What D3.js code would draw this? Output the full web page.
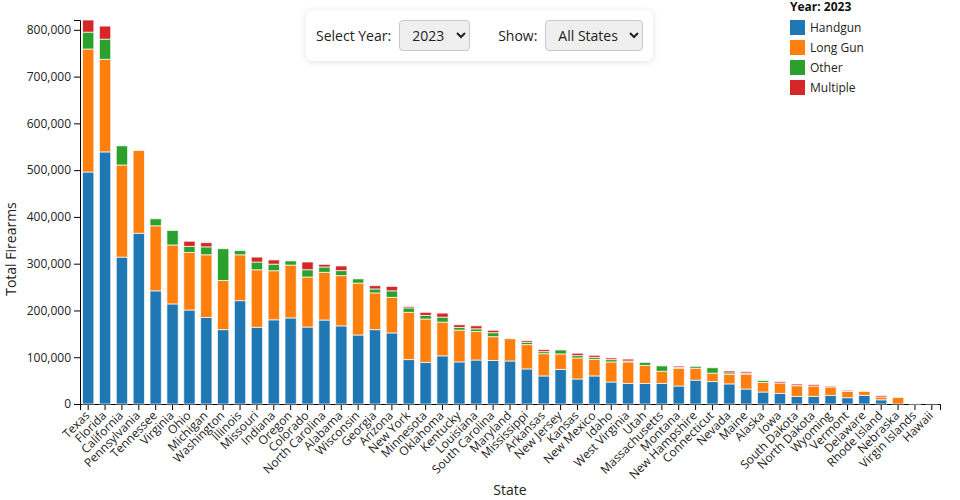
<!DOCTYPE html>
<html>
<head>
<meta charset="utf-8">
<script src="https://cdn.jsdelivr.net/npm/d3@7"></script>
<style>
  body { margin: 0; font-family: "Open Sans", sans-serif; background: #fff; }
  #wrap { position: relative; width: 960px; height: 500px; }
  #chart { position: absolute; left: 0; top: 0; }
  .controls {
    position: absolute; left: 306px; top: 10px; width: 347px; height: 51px;
    box-sizing: border-box; background: #fff; border-radius: 6px;
    box-shadow: 0 1px 6px rgba(0,0,0,0.12);
    display: flex; align-items: center; padding-left: 10px;
    font-size: 14px; color: #222;
  }
  .controls label { margin-right: 8px; }
  .controls select {
    font-family: "Open Sans", sans-serif; font-size: 14px; color: #222;
    height: 31px; background: #efefef; border: 1px solid #c8c8c8; border-radius: 4px;
    padding: 0 4px 0 8px;
  }
  #year { width: 71px; margin-right: 28px; }
  #show { width: 98px; }
</style>
</head>
<body>
<div id="wrap">
  <svg id="chart" width="960" height="500"></svg>
  <div class="controls">
    <label>Select Year:</label>
    <select id="year"><option>2023</option></select>
    <label>Show:</label>
    <select id="show"><option>All States</option></select>
  </div>
</div>
<script>
// values, sorted by total
const states = ["Texas", "Florida", "California", "Pennsylvania", "Tennessee", "Virginia", "Ohio",
  "Michigan", "Washington", "Illinois", "Missouri", "Indiana", "Oregon", "Colorado", "North Carolina",
  "Alabama", "Wisconsin", "Georgia", "Arizona", "New York", "Minnesota", "Oklahoma", "Kentucky",
  "Louisiana", "South Carolina", "Maryland", "Mississippi", "Arkansas", "New Jersey", "Kansas",
  "New Mexico", "Idaho", "West Virginia", "Utah", "Massachusetts", "Montana", "New Hampshire",
  "Connecticut", "Nevada", "Maine", "Alaska", "Iowa", "South Dakota", "North Dakota", "Wyoming",
  "Vermont", "Delaware", "Rhode Island", "Nebraska", "Virgin Islands", "Hawaii"];

const handgun = [496000, 539000, 314000, 365000, 242000, 214000, 201000, 185000, 159000, 221000,
  164000, 180000, 184000, 164500, 179500, 167000, 147500, 159000, 152000, 95000, 89000, 103000,
  90000, 94000, 93000, 92000, 75000, 60000, 74000, 53500, 60000, 47000, 44000, 44000, 44000,
  38500, 51000, 48000, 43000, 32000, 25600, 22700, 16200, 16200, 18400, 13500, 18400, 9000, 0, 400, 200];

const longGun = [263000, 198000, 197000, 177000, 139000, 126000, 123000, 134000, 105000, 98000,
  123000, 105000, 113000, 107000, 102000, 107500, 111000, 78500, 76000, 101000, 92700, 72000,
  68000, 61000, 51000, 47600, 52000, 47700, 33000, 45000, 35500, 43000, 46000, 38500, 26000,
  38000, 25500, 18000, 20000, 32000, 20600, 22000, 23000, 22300, 18000, 13500, 8500, 6000, 14000, 300, 0];

const other = [36000, 43000, 41000, 0, 15000, 31000, 13000, 17000, 68000, 9000, 16500, 14000, 9000,
  15600, 11500, 10700, 9000, 8500, 14000, 9500, 7700, 10700, 5600, 5800, 8500, 0, 5000, 4300, 8500,
  5000, 4300, 5000, 2000, 6400, 11500, 1500, 4000, 11500, 3500, 2000, 4000, 0, 500, 0, 0, 1000, 0, 0, 0, 0, 0];

const multiple = [26000, 28000, 0, 0, 0, 0, 11000, 9000, 0, 0, 10600, 9000, 0, 16500, 5500, 10000,
  0, 7000, 9500, 3000, 6500, 8600, 5800, 6400, 5000, 0, 3500, 4300, 0, 5000, 4300, 3500, 4000, 0,
  0, 3000, 0, 0, 4000, 3000, 0, 3000, 3000, 3000, 2000, 2000, 0, 3000, 0, 0, 0];

const types = ["Handgun", "Long Gun", "Other", "Multiple"];
const colors = ["#1f77b4", "#ff7f0e", "#2ca02c", "#d62728"];
const year = "2023";

const rows = states.map((s, i) => ({
  state: s, "Handgun": handgun[i], "Long Gun": longGun[i], "Other": other[i], "Multiple": multiple[i]
}));

const margin = {top: 20, right: 20, bottom: 96, left: 80};
const width = 960, height = 500;

const svg = d3.select("#chart");

const x = d3.scaleBand()
  .domain(states)
  .range([margin.left, width - margin.right])
  .paddingInner(0.33)
  .paddingOuter(0.15);

const stacked = d3.stack().keys(types)(rows);

const y = d3.scaleLinear()
  .domain([0, d3.max(stacked[stacked.length - 1], d => d[1])])
  .range([height - margin.bottom, margin.top]);

const color = d3.scaleOrdinal().domain(types).range(colors);

// axes first, bars go over them
svg.append("g")
  .attr("transform", `translate(0,${height - margin.bottom})`)
  .call(d3.axisBottom(x))
  .selectAll("text")
  .attr("font-size", 12)
  .attr("font-family", "Open Sans")
  .attr("fill", "#222")
  .style("text-anchor", "end")
  .attr("dx", "-.6em")
  .attr("dy", ".1em")
  .attr("transform", "rotate(-45)");

svg.append("g")
  .attr("transform", `translate(${margin.left},0)`)
  .call(d3.axisLeft(y).tickFormat(d3.format(",")))
  .selectAll("text")
  .attr("font-size", 12)
  .attr("font-family", "Open Sans")
  .attr("fill", "#222");

svg.append("g")
  .selectAll("g")
  .data(stacked)
  .join("g")
  .attr("fill", d => color(d.key))
  .selectAll("rect")
  .data(d => d)
  .join("rect")
  .attr("x", d => x(d.data.state))
  .attr("y", d => y(d[1]))
  .attr("height", d => y(d[0]) - y(d[1]))
  .attr("width", x.bandwidth())
  .attr("stroke", "#fff")
  .attr("stroke-opacity", 0.7)
  .attr("stroke-width", 1);

svg.append("text")
  .attr("x", (margin.left + width - margin.right) / 2)
  .attr("y", 495)
  .attr("text-anchor", "middle")
  .attr("font-size", 14)
  .attr("font-family", "Open Sans")
  .attr("fill", "#222")
  .text("State");

svg.append("text")
  .attr("transform", "rotate(-90)")
  .attr("x", -249)
  .attr("y", 16)
  .attr("text-anchor", "middle")
  .attr("font-size", 14)
  .attr("font-family", "Open Sans")
  .attr("fill", "#222")
  .text("Total Firearms");

const legend = svg.append("g").attr("transform", "translate(790,0)");

legend.append("text")
  .attr("x", 0)
  .attr("y", 10.5)
  .attr("font-size", 12)
  .attr("font-weight", "bold")
  .attr("font-family", "Open Sans")
  .attr("fill", "#111")
  .text("Year: " + year);

const items = legend.selectAll(".item")
  .data(types)
  .join("g")
  .attr("class", "item")
  .attr("transform", (d, i) => `translate(0,${20 + i * 20})`);

items.append("rect")
  .attr("width", 15)
  .attr("height", 15)
  .attr("fill", d => color(d));

items.append("text")
  .attr("x", 20)
  .attr("y", 12)
  .attr("font-size", 12)
  .attr("font-family", "Open Sans")
  .attr("fill", "#222")
  .text(d => d);
</script>
</body>
</html>
